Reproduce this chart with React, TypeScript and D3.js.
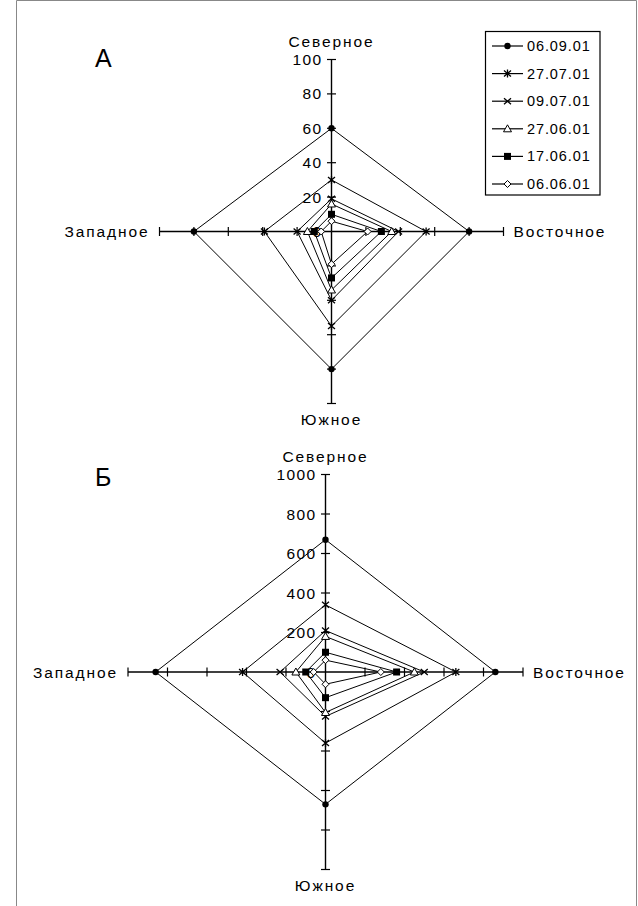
import React from "react";
import * as d3 from "d3";

const categories = ["Северное", "Восточное", "Южное", "Западное"];
const seriesNames = ["06.09.01", "27.07.01", "09.07.01", "27.06.01", "17.06.01", "06.06.01"];
const markerKinds = ["circle", "star", "cross", "triangle", "square", "diamond"];
const valuesA = [
  [60, 80, 80, 80],
  [30, 55, 55, 39],
  [19, 39, 40, 20],
  [16, 35, 34, 14],
  [10, 29, 27, 10],
  [6, 21, 19, 6],
];
const valuesB = [
  [670, 860, 670, 860],
  [340, 660, 360, 420],
  [210, 500, 225, 230],
  [180, 450, 205, 150],
  [100, 360, 130, 100],
  [60, 280, 62, 60],
];
const ticksA = [0, 20, 40, 60, 80, 100];
const ticksB = [0, 200, 400, 600, 800, 1000];

const FONT = "'Liberation Sans', Arial, sans-serif";

function Marker({ kind, x, y }: { kind: string; x: number; y: number }) {
  const t = `translate(${x},${y})`;
  switch (kind) {
    case "circle":
      return <circle cx={x} cy={y} r={3.2} fill="#000" />;
    case "star":
      return <path transform={t} d="M-3.5,-3L3.5,3M-3.5,3L3.5,-3M0,-4L0,4" stroke="#000" strokeWidth={1.3} fill="none" />;
    case "cross":
      return <path transform={t} d="M-3.5,-3L3.5,3M-3.5,3L3.5,-3" stroke="#000" strokeWidth={1.3} fill="none" />;
    case "triangle":
      return <path transform={t} d="M0,-4L4,3L-4,3Z" stroke="#000" strokeWidth={1} fill="#fff" />;
    case "square":
      return <rect x={x - 3.5} y={y - 3.5} width={7} height={7} fill="#000" />;
    case "diamond":
      return <path transform={t} d="M0,-3.5L3.5,0L0,3.5L-3.5,0Z" stroke="#000" strokeWidth={1} fill="#fff" />;
    default:
      return null;
  }
}

function Radar({
  cx, cy, radius, ticks, values, letter, letterX, letterY, tickLen,
}: {
  cx: number; cy: number; radius: number; ticks: number[]; values: number[][];
  letter: string; letterX: number; letterY: number; tickLen: number;
}) {
  const r = d3.scaleLinear().domain([0, ticks[ticks.length - 1]]).range([0, radius]);
  const angles = categories.map((_, i) => -Math.PI / 2 + (i * Math.PI * 2) / categories.length);
  const pt = (i: number, v: number): [number, number] => [
    cx + Math.cos(angles[i]) * r(v),
    cy + Math.sin(angles[i]) * r(v),
  ];
  const line = d3.line<[number, number]>().curve(d3.curveLinearClosed);
  const labelStyle = { fontFamily: FONT, fontSize: 15.5, letterSpacing: 1.9 } as React.CSSProperties;
  const tickStyle = { fontFamily: FONT, fontSize: 15.5, letterSpacing: 1.4 } as React.CSSProperties;

  return (
    <g>
      <text x={letterX} y={letterY} style={{ fontFamily: FONT, fontSize: 25 }} fill="#000">{letter}</text>
      {values.map((vals, si) => (
        <path key={"p" + si} d={line(vals.map((v, i) => pt(i, v))) || ""} fill="none" stroke="#000" strokeWidth={1} />
      ))}
      {angles.map((a, i) => {
        const [x2, y2] = pt(i, ticks[ticks.length - 1]);
        const vx = Math.cos(a), vy = Math.sin(a);
        const px = -vy, py = vx;
        return (
          <g key={"ax" + i}>
            <line x1={cx} y1={cy} x2={x2} y2={y2} stroke="#000" strokeWidth={1.4} />
            {ticks.slice(1).map((tv) => {
              const [tx, ty] = pt(i, tv);
              return (
                <line key={tv} x1={tx - px * tickLen} y1={ty - py * tickLen} x2={tx + px * tickLen} y2={ty + py * tickLen} stroke="#000" strokeWidth={1.2} />
              );
            })}
          </g>
        );
      })}
      {ticks.map((tv) => {
        const [tx, ty] = pt(0, tv);
        return (
          <text key={"tl" + tv} x={tx - 9} y={ty} textAnchor="end" dominantBaseline="central" style={tickStyle} fill="#000">
            {tv}
          </text>
        );
      })}
      {values.map((vals, si) =>
        vals.map((v, i) => {
          const [x, y] = pt(i, v);
          return <Marker key={"m" + si + "-" + i} kind={markerKinds[si]} x={x} y={y} />;
        })
      )}
      {categories.map((c, i) => {
        const [x, y] = pt(i, ticks[ticks.length - 1]);
        if (i === 0)
          return <text key={c} x={x} y={y - 13} textAnchor="middle" style={labelStyle} fill="#000">{c}</text>;
        if (i === 1)
          return <text key={c} x={x + 10} y={y} dominantBaseline="central" style={labelStyle} fill="#000">{c}</text>;
        if (i === 2)
          return <text key={c} x={x} y={y + 21} textAnchor="middle" style={labelStyle} fill="#000">{c}</text>;
        return <text key={c} x={x - 10} y={y} textAnchor="end" dominantBaseline="central" style={labelStyle} fill="#000">{c}</text>;
      })}
    </g>
  );
}

export default function App() {
  const legendX = 485.5, legendY = 31.5, legendW = 114.5, legendH = 163.5;
  return (
    <svg width={638} height={906} style={{ position: "absolute", left: 0, top: 0, background: "#fff" }}>
      <rect x={0} y={0} width={638} height={906} fill="#fff" />
      <line x1={16.5} y1={0.5} x2={636.5} y2={0.5} stroke="#888" />
      <line x1={636.5} y1={0.5} x2={636.5} y2={906} stroke="#888" />
      <line x1={16.5} y1={0.5} x2={16.5} y2={906} stroke="#888" />
      <Radar cx={331.5} cy={231.5} radius={172} ticks={ticksA} values={valuesA} letter="А" letterX={95} letterY={67} tickLen={4.5} />
      <Radar cx={325.5} cy={672} radius={197.5} ticks={ticksB} values={valuesB} letter="Б" letterX={95} letterY={486} tickLen={4.5} />
      <rect x={legendX} y={legendY} width={legendW} height={legendH} fill="#fff" stroke="#000" strokeWidth={1.2} />
      {seriesNames.map((s, i) => {
        const y = 46 + i * 27.6;
        return (
          <g key={s}>
            <line x1={492} y1={y} x2={523} y2={y} stroke="#000" strokeWidth={1.2} />
            <Marker kind={markerKinds[i]} x={507.5} y={y} />
            <text x={527} y={y} dominantBaseline="central" style={{ fontFamily: FONT, fontSize: 14.5, letterSpacing: 0.9 }} fill="#000">
              {s}
            </text>
          </g>
        );
      })}
    </svg>
  );
}
